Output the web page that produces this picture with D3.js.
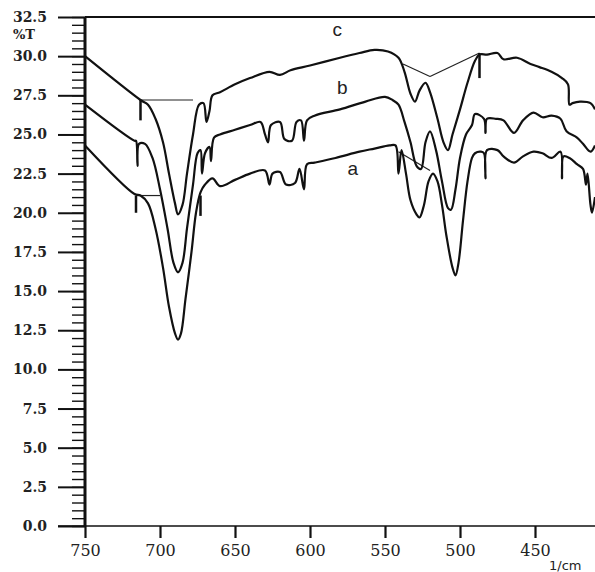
<!DOCTYPE html>
<html>
<head>
<meta charset="utf-8">
<script src="https://cdn.jsdelivr.net/npm/d3@7"></script>
<style>
  html, body { margin: 0; padding: 0; background: #fff; }
  svg { display: block; }
</style>
</head>
<body>
<div id="chart"></div>
<script>
// IR transmittance spectra, three samples (a, b, c). [wavenumber 1/cm, %T]
const curveC = [
  [750, 30.0], [713, 27.2], [708, 26.9], [703, 26.0], [698, 24.5], [694, 22.5],
  [690, 20.6], [688, 19.9], [685, 20.5], [682, 22.5], [678, 25.0], [674, 26.9],
  [671, 27.0], [669, 25.8], [667, 26.5], [665, 27.5], [660, 27.7], [650, 28.2],
  [640, 28.6], [627, 29.0], [620, 28.8], [613, 29.1], [600, 29.4], [580, 29.9],
  [567, 30.2], [557, 30.4], [548, 30.3], [541, 29.9], [537, 29.0], [533, 27.6],
  [530, 27.1], [527, 27.8], [523, 28.3], [520, 27.7], [515, 26.0], [511, 24.5],
  [508, 24.0], [505, 25.0], [500, 26.6], [495, 28.3], [490, 29.7], [487, 30.1],
  [482, 30.1], [475, 30.2], [471, 29.8], [462, 29.9], [453, 29.5], [447, 29.3],
  [439, 29.0], [432, 28.6], [428, 28.2], [427, 26.9], [425, 27.0], [420, 27.1],
  [413, 27.0], [410, 26.6]
];

const curveB = [
  [750, 26.9], [717, 24.6], [716, 24.6], [715, 23.0], [714, 24.4], [710, 24.4],
  [705, 23.5], [700, 21.5], [695, 19.0], [691, 16.8], [688, 16.2], [685, 16.8],
  [682, 19.0], [678, 21.8], [675, 23.8], [673, 24.0], [672, 22.5], [670, 23.8],
  [667, 24.2], [666, 23.3], [664, 24.8], [660, 25.0], [650, 25.3], [640, 25.6],
  [633, 25.8], [630, 25.0], [628, 24.5], [626, 25.6], [620, 25.8], [617, 24.7],
  [612, 24.6], [609, 25.8], [606, 25.9], [604, 24.6], [602, 25.9], [597, 26.2],
  [580, 26.6], [563, 27.1], [550, 27.4], [545, 27.2], [541, 26.9], [537, 25.8],
  [533, 24.5], [529, 23.0], [526, 22.8], [523, 24.5], [520, 25.2], [516, 24.0],
  [512, 22.0], [508, 20.3], [506, 20.2], [503, 21.5], [500, 23.5], [496, 25.0],
  [492, 25.6], [490, 26.3], [484, 26.0], [483, 25.1], [482, 26.0], [476, 26.0],
  [471, 25.9], [464, 25.1], [458, 25.9], [451, 26.4], [445, 26.1], [439, 26.2],
  [433, 26.0], [429, 25.2], [422, 24.8], [418, 24.4], [413, 23.9], [410, 24.3]
];

const curveA = [
  [750, 24.3], [717, 21.2], [713, 21.1], [708, 20.6], [703, 19.0], [698, 16.5],
  [694, 14.0], [690, 12.3], [688, 11.9], [686, 12.3], [683, 14.5], [679, 17.5],
  [676, 20.0], [673, 21.3], [670, 21.8], [665, 22.2], [660, 21.7], [650, 22.1],
  [640, 22.5], [630, 22.7], [627, 21.8], [625, 22.5], [620, 22.6], [616, 21.8],
  [610, 21.9], [607, 22.8], [604, 21.5], [602, 23.1], [597, 23.2], [583, 23.5],
  [567, 23.9], [557, 24.1], [547, 24.3], [543, 24.3], [541, 22.5], [539, 24.0],
  [536, 22.5], [533, 20.8], [529, 19.9], [527, 19.7], [524, 20.5], [521, 22.0],
  [518, 22.5], [515, 22.0], [512, 20.5], [509, 18.5], [505, 16.5], [503, 16.0],
  [501, 16.8], [498, 19.5], [495, 22.0], [492, 23.5], [490, 23.8], [486, 23.9],
  [484, 23.8], [483, 22.2], [482, 24.0], [475, 24.0], [471, 23.6], [464, 23.2],
  [458, 23.6], [451, 23.9], [445, 23.8], [439, 23.5], [433, 23.9], [432, 22.2],
  [431, 23.6], [427, 23.5], [422, 23.1], [418, 22.8], [416, 21.8], [415, 22.5],
  [413, 20.5], [412, 20.0], [410, 21.0]
];

const curveNames = ["a", "b", "c"];
// label anchor: [wavenumber, %T]
const labelPos = [[575, 22.4], [582, 27.6], [585, 31.3]];

// peak-pick baselines [w1, T1, w2, T2] and threshold ticks [w, Ttop, Tbottom]
const baselines = [
  [713, 27.2, 678, 27.2], [538, 29.5, 520, 28.7], [520, 28.7, 487, 30.2],
  [716, 21.1, 700, 21.1], [541, 23.9, 520, 22.7]
];
const peakTicks = [[713, 27.2, 25.9], [716, 21.1, 20.0], [673, 21.1, 19.8], [487, 30.2, 28.6]];

const yMajor = [0, 2.5, 5, 7.5, 10, 12.5, 15, 17.5, 20, 22.5, 25, 27.5, 30, 32.5];
const xMajor = [750, 700, 650, 600, 550, 500, 450];

const width = 595, height = 572;
const svg = d3.select("#chart").append("svg").attr("width", width).attr("height", height);

const x = d3.scaleLinear().domain([750, 410]).range([85, 595]);
const y = d3.scaleLinear().domain([0, 32.5]).range([526, 17]);

// y axis: minor ticks every 0.5, majors labelled
svg.append("g")
  .attr("transform", `translate(${x(750)},0)`)
  .call(d3.axisLeft(y).tickValues(d3.range(0, 32.51, 0.5)).tickSize(13).tickFormat(""))
  .call(g => g.select(".domain").remove())
  .call(g => g.selectAll("line").attr("stroke", "#111").attr("stroke-width", 1.4));

svg.append("g")
  .attr("transform", `translate(${x(750)},0)`)
  .call(d3.axisLeft(y).tickValues(yMajor).tickSize(27).tickPadding(11).tickFormat(d3.format(".1f")))
  .call(g => g.select(".domain").remove())
  .call(g => g.selectAll("line").attr("stroke", "#111").attr("stroke-width", 2))
  .call(g => g.selectAll("text")
    .attr("fill", "#222")
    .style("font-family", "'DejaVu Serif', serif")
    .style("font-size", "14px")
    .style("font-weight", "bold"));

svg.append("text")
  .attr("x", 13).attr("y", y(30) - 17)
  .style("font-family", "'DejaVu Serif', serif").style("font-size", "13px").style("font-weight", "bold")
  .attr("fill", "#222")
  .text("%T");

// x axis
svg.append("g")
  .attr("transform", `translate(0,${y(0)})`)
  .call(d3.axisBottom(x).tickValues(xMajor).tickSize(12).tickPadding(7).tickFormat(d3.format("d")))
  .call(g => g.select(".domain").remove())
  .call(g => g.selectAll("line").attr("stroke", "#111").attr("stroke-width", 2.2))
  .call(g => g.selectAll("text")
    .attr("fill", "#222")
    .style("font-family", "'DejaVu Serif', serif")
    .style("font-size", "16px"));

svg.append("text")
  .attr("x", 549).attr("y", 570)
  .style("font-family", "'DejaVu Sans', sans-serif").style("font-size", "13px")
  .attr("fill", "#222")
  .text("1/cm");

// frame lines
svg.append("line")
  .attr("x1", x(750) - 27).attr("x2", x.range()[1])
  .attr("y1", y(0)).attr("y2", y(0))
  .attr("stroke", "#111").attr("stroke-width", 1.6);
svg.append("line")
  .attr("x1", x(750)).attr("x2", x.range()[1])
  .attr("y1", y(32.5)).attr("y2", y(32.5))
  .attr("stroke", "#111").attr("stroke-width", 2);
svg.append("line")
  .attr("x1", x(750)).attr("x2", x(750))
  .attr("y1", y(32.5)).attr("y2", y(0))
  .attr("stroke", "#111").attr("stroke-width", 3);

// baselines and ticks
svg.append("g").selectAll("line").data(baselines).join("line")
  .attr("x1", d => x(d[0])).attr("y1", d => y(d[1]))
  .attr("x2", d => x(d[2])).attr("y2", d => y(d[3]))
  .attr("stroke", "#222").attr("stroke-width", 1.2);

svg.append("g").selectAll("line").data(peakTicks).join("line")
  .attr("x1", d => x(d[0])).attr("x2", d => x(d[0]))
  .attr("y1", d => y(d[1])).attr("y2", d => y(d[2]))
  .attr("stroke", "#111").attr("stroke-width", 2.5);

// spectra
const line = d3.line()
  .x(d => x(d[0]))
  .y(d => y(d[1]))
  .curve(d3.curveCatmullRom.alpha(0.5));

svg.append("g").selectAll("path").data([curveA, curveB, curveC]).join("path")
  .attr("d", line)
  .attr("fill", "none")
  .attr("stroke", "#111")
  .attr("stroke-width", 2.2)
  .attr("stroke-linejoin", "round");

svg.append("g").selectAll("text").data(curveNames).join("text")
  .attr("x", (d, i) => x(labelPos[i][0]))
  .attr("y", (d, i) => y(labelPos[i][1]))
  .style("font-family", "'Liberation Sans', Arial, sans-serif")
  .style("font-size", "19px")
  .attr("fill", "#222")
  .text(d => d);
</script>
</body>
</html>
